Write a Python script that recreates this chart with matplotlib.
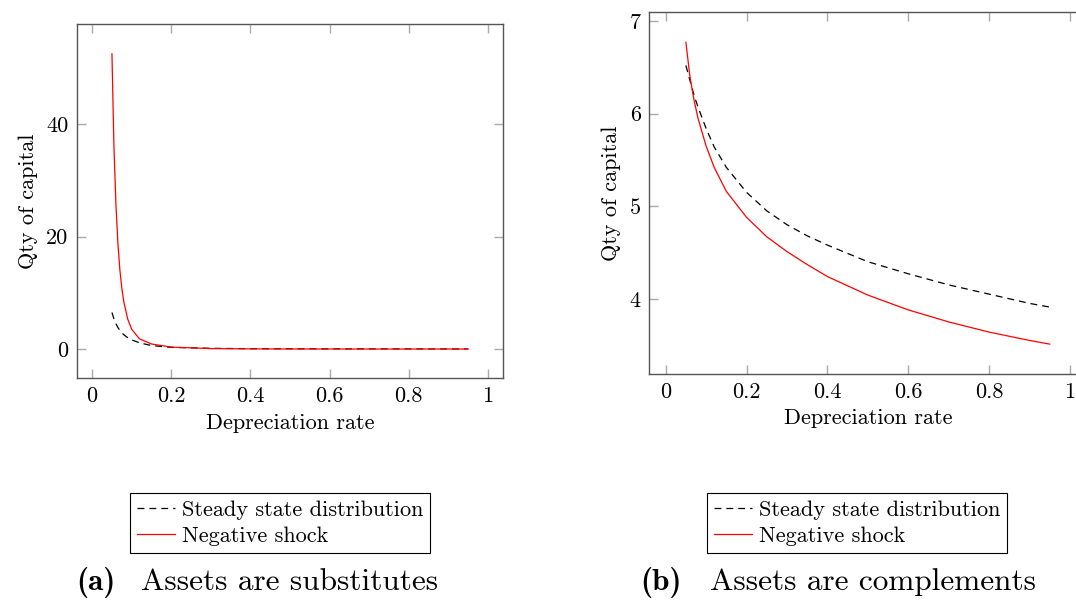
import numpy as np
import matplotlib.pyplot as plt

# computer modern look (fonts shipped with matplotlib)
plt.rc('font', family='cmr10')
plt.rc('axes', unicode_minus=False)
plt.rc('mathtext', fontset='cm')

# data
dep = [0.05, 0.055, 0.06, 0.065, 0.07, 0.075, 0.08, 0.09, 0.1, 0.12,
       0.15, 0.2, 0.3, 0.4, 0.5, 0.6, 0.7, 0.8, 0.9, 0.95]
subs_steady = [6.5, 5.37, 4.51, 3.85, 3.32, 2.89, 2.54, 2.01, 1.63, 1.1,
               0.62, 0.3, 0.13, 0.07, 0.05, 0.035, 0.03, 0.025, 0.02, 0.018]
subs_shock = [52.5, 36.2, 25.8, 18.9, 14.1, 10.8, 8.4, 5.3, 3.5, 1.8,
              0.9, 0.35, 0.08, 0.03, 0.015, 0.01, 0.008, 0.006, 0.005, 0.005]

dep_b = [0.05, 0.06, 0.07, 0.08, 0.1, 0.12, 0.15, 0.2, 0.25, 0.3,
         0.35, 0.4, 0.5, 0.6, 0.7, 0.8, 0.9, 0.95]
comp_steady = [6.52, 6.36, 6.20, 6.07, 5.84, 5.64, 5.42, 5.15, 4.95, 4.80,
               4.68, 4.58, 4.40, 4.27, 4.15, 4.05, 3.95, 3.91]
comp_shock = [6.77, 6.40, 6.15, 5.95, 5.65, 5.42, 5.16, 4.88, 4.67, 4.51,
              4.37, 4.24, 4.04, 3.88, 3.75, 3.64, 3.55, 3.51]

xticks = [0, 0.2, 0.4, 0.6, 0.8, 1]
xtick_labels = ['0', '0.2', '0.4', '0.6', '0.8', '1']
yticks_a = [0, 20, 40]
yticks_b = [4, 5, 6, 7]

labels = ['Steady state distribution', 'Negative shock']
captions = ['Assets are substitutes', 'Assets are complements']
caption_tags = ['(a)', '(b)']

fig = plt.figure(figsize=(10.76, 6.02), dpi=100)
ax_a = fig.add_axes([0.0713, 0.3716, 0.3965, 0.5885])
ax_b = fig.add_axes([0.6034, 0.3787, 0.4062, 0.6013])

dash = (0, (5.5, 4))
fs = 16

for ax, x, s, k, yt in [(ax_a, dep, subs_steady, subs_shock, yticks_a),
                        (ax_b, dep_b, comp_steady, comp_shock, yticks_b)]:
    ax.plot(x, s, color='black', lw=0.9, linestyle=dash, label=labels[0])
    ax.plot(x, k, color='red', lw=0.9, label=labels[1])
    ax.set_xticks(xticks)
    ax.set_xticklabels(xtick_labels)
    ax.set_yticks(yt)
    ax.set_yticklabels([str(v) for v in yt])
    ax.tick_params(direction='in', length=6.7, width=1.0, color='#aaaaaa',
                   top=True, right=True, labelsize=fs, pad=6)
    for sp in ax.spines.values():
        sp.set_color('#555555')
        sp.set_linewidth(1.0)
    ax.set_xlabel('Depreciation rate', fontsize=fs, labelpad=5)
    ax.set_ylabel('Qty of capital', fontsize=fs, labelpad=6)

ax_a.set_xlim(-0.039, 1.039)
ax_a.set_ylim(-5.2, 57.8)
ax_b.set_xlim(-0.0406, 1.0406)
ax_b.set_ylim(3.187, 7.097)

# legends below each panel
for ax, cx in [(ax_a, 280 / 1076), (ax_b, 857 / 1076)]:
    leg = ax.legend(loc='center', bbox_to_anchor=(cx, 1 - 523 / 602),
                    bbox_transform=fig.transFigure, fontsize=fs,
                    fancybox=False, edgecolor='black', framealpha=1,
                    handlelength=1.7, handletextpad=0.3, borderpad=0.3,
                    labelspacing=0.3, borderaxespad=0)
    leg.get_frame().set_linewidth(0.8)

# captions
cy = 1 - 582 / 602
fig.text(76 / 1076, cy, caption_tags[0], family='cmb10',
         fontsize=22.5, va='center', ha='left')
fig.text(141 / 1076, cy, captions[0], fontsize=22.5,
         va='center', ha='left')
fig.text(640 / 1076, cy, caption_tags[1], family='cmb10',
         fontsize=22.5, va='center', ha='left')
fig.text(710 / 1076, cy, captions[1], fontsize=22.5,
         va='center', ha='left')

fig.savefig('out.png', dpi=100)
